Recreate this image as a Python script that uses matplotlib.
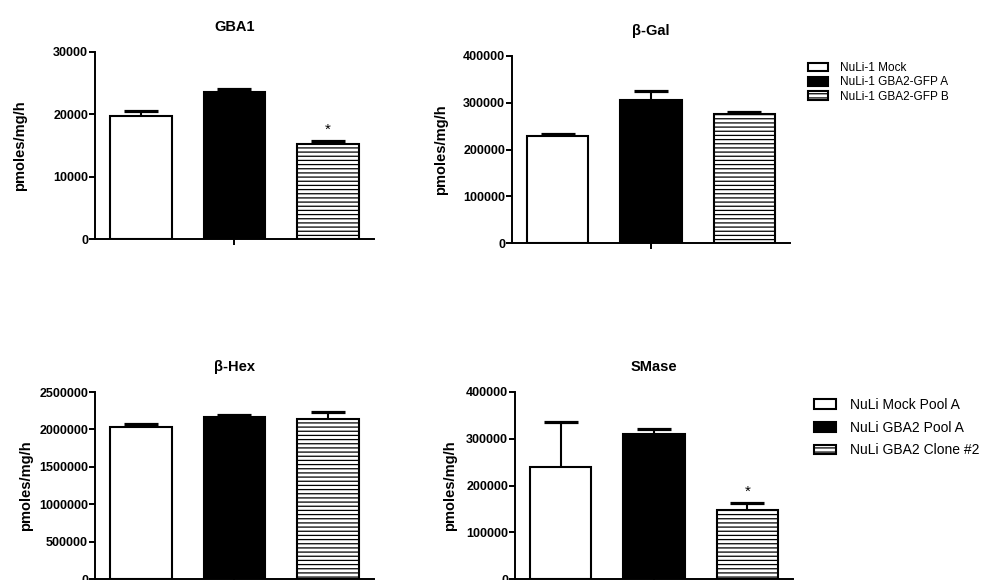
import matplotlib
matplotlib.use("Agg")
import matplotlib.pyplot as plt
from matplotlib.patches import Patch

plt.rcParams.update({
    "font.family": ["Liberation Sans", "DejaVu Sans"],
    "font.weight": "bold",
    "figure.facecolor": "white",
    "axes.facecolor": "white",
    "hatch.linewidth": 0.9,
    "hatch.color": "black",
})

# -----------------------------
# Data
# -----------------------------
groups = [0, 1, 2]

gba1_mean = [19800, 23600, 15300]
gba1_err = [800, 500, 400]
gba1_ticks = [0, 10000, 20000, 30000]

bgal_mean = [229000, 306000, 277000]
bgal_err = [4000, 19000, 3000]
bgal_ticks = [0, 100000, 200000, 300000, 400000]

bhex_mean = [2030000, 2168000, 2141000]
bhex_err = [36000, 27000, 94000]
bhex_ticks = [0, 500000, 1000000, 1500000, 2000000, 2500000]

smase_mean = [239000, 311000, 147000]
smase_err = [97000, 9000, 15000]
smase_ticks = [0, 100000, 200000, 300000, 400000]

legend_top = ["NuLi-1 Mock", "NuLi-1 GBA2-GFP A", "NuLi-1 GBA2-GFP B"]
legend_bottom = ["NuLi Mock Pool A", "NuLi GBA2 Pool A", "NuLi GBA2 Clone #2"]

faces = ["white", "black", "white"]
hatches = [None, None, "----"]

W, H = 984, 580
fig = plt.figure(figsize=(W / 100, H / 100), dpi=100)


def px_axes(left, right, top, bottom):
    return fig.add_axes([left / W, 1 - bottom / H, (right - left) / W, (bottom - top) / H])


def panel(ax, means, errs, ticks, title, ylabel_x, star=False):
    bars = ax.bar(groups, means, width=0.66, color=faces, edgecolor="black",
                  linewidth=1.5, zorder=2)
    for b, h in zip(bars, hatches):
        if h:
            b.set_hatch(h)
    # one-sided (upper) error bars
    tops = [m + e for m, e in zip(means, errs)]
    ax.vlines(groups, means, tops, color="black", linewidth=1.5, zorder=3)
    ax.plot(groups, tops, linestyle="none", marker="_", markersize=24,
            markeredgewidth=2.3, color="black", zorder=3)
    if star:
        ax.annotate("*", xy=(2, tops[2]), xytext=(0, 3),
                    textcoords="offset points", ha="center", va="bottom",
                    fontsize=11, fontweight="normal")
    ax.set_xlim(-0.49, 2.49)
    ax.set_ylim(ticks[0], ticks[-1])
    ax.set_yticks(ticks)
    ax.set_yticklabels([str(t) for t in ticks])
    ax.set_xticks([1])
    ax.set_xticklabels([""])
    for s in ["top", "right"]:
        ax.spines[s].set_visible(False)
    for s in ["left", "bottom"]:
        ax.spines[s].set_linewidth(1.4)
    ax.tick_params(axis="both", direction="out", length=4, width=1.4,
                   labelsize=9, pad=1)
    for lab in ax.get_yticklabels():
        lab.set_fontweight("bold")
    ax.set_title(title, fontsize=10.5, fontweight="bold", pad=15)
    ax.set_ylabel("pmoles/mg/h", fontsize=10.5, fontweight="bold")
    ax.yaxis.set_label_coords(ylabel_x, 0.5)


ax1 = px_axes(95, 374, 52, 239)
panel(ax1, gba1_mean, gba1_err, gba1_ticks, "GBA1", -0.245, star=True)

ax2 = px_axes(512, 790, 56, 243)
panel(ax2, bgal_mean, bgal_err, bgal_ticks, "β-Gal", -0.23)

ax3 = px_axes(95, 374, 392, 579)
panel(ax3, bhex_mean, bhex_err, bhex_ticks, "β-Hex", -0.222)

ax4 = px_axes(515, 793, 392, 579)
panel(ax4, smase_mean, smase_err, smase_ticks, "SMase", -0.207, star=True)

# -----------------------------
# Legends
# -----------------------------
def handles(labels):
    return [Patch(facecolor=f, edgecolor="black", linewidth=1.5, hatch=h, label=l)
            for f, h, l in zip(faces, hatches, labels)]


fig.legend(handles=handles(legend_top), loc="upper left",
           bbox_to_anchor=(808 / W, 1 - 62 / H), frameon=False,
           borderaxespad=0, borderpad=0, handlelength=1.7, handleheight=0.75,
           handletextpad=1.0, labelspacing=0.2,
           prop={"size": 8.5, "weight": "normal"})

fig.legend(handles=handles(legend_bottom), loc="upper left",
           bbox_to_anchor=(814 / W, 1 - 398 / H), frameon=False,
           borderaxespad=0, borderpad=0, handlelength=1.6, handleheight=0.7,
           handletextpad=1.0, labelspacing=0.62,
           prop={"size": 10, "weight": "normal"})

fig.savefig("out.png", dpi=100)
